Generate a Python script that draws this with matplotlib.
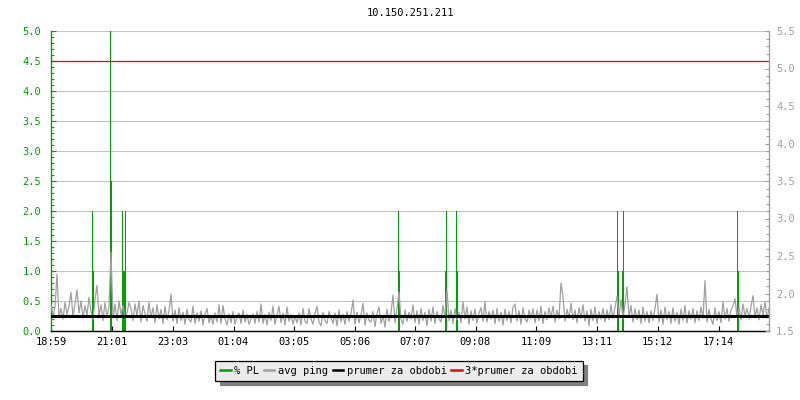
import matplotlib
matplotlib.use('Agg')
import matplotlib.pyplot as plt
from matplotlib.ticker import MultipleLocator, FormatStrFormatter
from matplotlib.lines import Line2D

plt.rcParams['font.family'] = ['DejaVu Sans Mono']

title = '10.150.251.211'

# x axis: minutes since 18:59, one ping sample every 4 minutes
tick_minutes = [0, 122, 244, 365, 486, 607, 728, 849, 970, 1092, 1213, 1335]
tick_labels = ['18:59', '21:01', '23:03', '01:04', '03:05', '05:06',
               '07:07', '09:08', '11:09', '13:11', '15:12', '17:14']
x_end = 1436
ping_step = 4

# avg ping [ms], right axis
avg_ping = [
    1.85, 1.70, 1.82, 2.26, 1.68, 1.80, 1.66, 1.88, 1.72, 1.83, 2.02, 1.69, 1.86, 2.05, 1.74, 1.90, 1.67, 1.84, 1.71, 1.95,
    1.76, 1.66, 1.92, 2.11, 1.70, 1.85, 1.64, 1.88, 1.69, 1.83, 2.55, 1.67, 1.86, 1.64, 1.90, 1.72, 1.84, 1.68, 1.74, 1.88,
    1.80, 1.64, 1.86, 1.70, 1.90, 1.62, 1.84, 1.73, 1.63, 1.88, 1.68, 1.81, 1.61, 1.85, 1.66, 1.79, 1.60, 1.83, 1.65, 1.77,
    1.99, 1.63, 1.78, 1.60, 1.81, 1.64, 1.75, 1.59, 1.79, 1.65, 1.62, 1.83, 1.60, 1.74, 1.63, 1.77, 1.58, 1.72, 1.80, 1.61,
    1.70, 1.59, 1.74, 1.62, 1.85, 1.60, 1.84, 1.66, 1.58, 1.73, 1.61, 1.76, 1.59, 1.70, 1.74, 1.60, 1.78, 1.62, 1.72, 1.59,
    1.66, 1.73, 1.60, 1.76, 1.62, 1.86, 1.60, 1.72, 1.58, 1.75, 1.64, 1.83, 1.59, 1.71, 1.83, 1.61, 1.74, 1.58, 1.82, 1.63,
    1.72, 1.59, 1.70, 1.61, 1.74, 1.58, 1.80, 1.63, 1.60, 1.80, 1.66, 1.59, 1.73, 1.83, 1.62, 1.57, 1.75, 1.64, 1.60, 1.76,
    1.68, 1.60, 1.74, 1.57, 1.78, 1.62, 1.72, 1.59, 1.76, 1.63, 1.73, 1.91, 1.59, 1.75, 1.61, 1.71, 1.87, 1.58, 1.74, 1.64,
    1.62, 1.76, 1.56, 1.73, 1.82, 1.60, 1.71, 1.55, 1.79, 1.63, 1.74, 1.98, 1.61, 1.80, 2.02, 1.66, 1.59, 1.78, 1.63, 1.75,
    1.66, 1.85, 1.61, 1.77, 1.59, 1.80, 1.64, 1.75, 1.57, 1.79, 1.63, 1.82, 1.60, 1.76, 1.66, 1.62, 1.84, 1.68, 2.05, 1.64,
    1.78, 1.60, 1.80, 1.65, 1.75, 1.61, 1.89, 1.66, 1.82, 1.59, 1.77, 1.64, 1.79, 1.61, 1.74, 1.81, 1.63, 1.89, 1.62, 1.76,
    1.66, 1.78, 1.60, 1.80, 1.63, 1.75, 1.58, 1.79, 1.64, 1.76, 1.61, 1.82, 1.86, 1.63, 1.77, 1.59, 1.81, 1.66, 1.62, 1.78,
    1.67, 1.80, 1.61, 1.78, 1.64, 1.83, 1.60, 1.76, 1.65, 1.81, 1.68, 1.83, 1.62, 1.78, 1.66, 2.14, 1.96, 1.63, 1.79, 1.67,
    1.87, 1.65, 1.78, 1.61, 1.81, 1.67, 1.85, 1.63, 1.77, 1.57, 1.79, 1.64, 1.82, 1.60, 1.76, 1.66, 1.80, 1.62, 1.78, 1.65,
    1.85, 1.67, 1.81, 1.96, 1.70, 1.92, 1.66, 1.86, 2.09, 1.68, 1.84, 1.62, 1.80, 1.65, 1.78, 1.60, 1.82, 1.63, 1.76, 1.61,
    1.77, 1.64, 1.80, 1.99, 1.62, 1.78, 1.59, 1.82, 1.65, 1.76, 1.60, 1.81, 1.63, 1.75, 1.59, 1.79, 1.64, 1.84, 1.61, 1.77,
    1.66, 1.80, 1.61, 1.77, 1.64, 1.82, 1.67, 2.17, 1.62, 1.79, 1.66, 1.59, 1.81, 1.64, 1.76, 1.61, 1.89, 1.66, 1.80, 1.63,
    1.78, 1.84, 1.93, 1.68, 1.82, 1.65, 1.86, 1.70, 1.80, 1.66, 1.83, 1.97, 1.69, 1.81, 1.65, 1.85, 1.71, 1.89, 1.67, 1.80,
]
ping_minutes = [i * ping_step for i in range(len(avg_ping))]

# packet loss [%], left axis (only non-zero samples, 2 min each)
pl_minutes = [82, 84, 118, 120, 142, 144, 146, 148, 694, 696,
              788, 790, 810, 812, 1132, 1134, 1142, 1144, 1372, 1374]
pl_values = [2.0, 1.0, 5.0, 2.5, 2.0, 1.0, 1.0, 2.0, 2.0, 1.0,
             1.0, 2.0, 2.0, 1.0, 2.0, 1.0, 1.0, 2.0, 2.0, 1.0]
pl_width = 2

prumer = 1.70
prumer3 = 5.10

legend_labels = ['% PL', 'avg ping', 'prumer za obdobi', '3*prumer za obdobi']

GREEN = '#00a000'
GRAY = '#a0a0a0'
GRID = '#c4c4c4'

fig = plt.figure(figsize=(8, 4), dpi=100)
ax = fig.add_axes([51 / 800, 69 / 400, 718 / 800, 300 / 400])
ax2 = ax.twinx()

# left axis: packet loss
ax.set_xlim(0, x_end)
ax.set_ylim(0, 5)
ax.yaxis.set_major_locator(MultipleLocator(0.5))
ax.yaxis.set_minor_locator(MultipleLocator(0.1))
ax.yaxis.set_major_formatter(FormatStrFormatter('%.1f'))
ax.grid(axis='y', color=GRID, linewidth=0.8)
ax.set_axisbelow(True)
ax.bar(pl_minutes, pl_values, width=pl_width, align='edge', color=GREEN, linewidth=0)

# right axis: ping
ax2.set_ylim(1.5, 5.5)
ax2.yaxis.set_major_locator(MultipleLocator(0.5))
ax2.yaxis.set_minor_locator(MultipleLocator(0.1))
ax2.yaxis.set_major_formatter(FormatStrFormatter('%.1f'))
ax2.plot(ping_minutes, avg_ping, color=GRAY, linewidth=0.9)
ax2.axhline(prumer, color='black', linewidth=2.2)
ax2.axhline(prumer3, color='red', linewidth=0.9)

ax.set_xticks(tick_minutes)
ax.set_xticklabels(tick_labels)

# spines and ticks
for s in ['top', 'right']:
    ax.spines[s].set_visible(False)
for s in ['top', 'left', 'bottom']:
    ax2.spines[s].set_visible(False)
ax.spines['left'].set_color(GREEN)
ax.spines['bottom'].set_color('black')
ax2.spines['right'].set_color(GRAY)
for sp in [ax.spines['left'], ax.spines['bottom'], ax2.spines['right']]:
    sp.set_linewidth(1.0)

ax.tick_params(axis='y', which='major', direction='in', length=3.4, width=0.8,
               color=GREEN, labelcolor=GREEN, labelsize=7.5, pad=7)
ax.tick_params(axis='y', which='minor', direction='in', length=2.4, width=0.8, color=GREEN)
ax.tick_params(axis='x', direction='in', length=3.6, width=0.8, color='black',
               labelsize=7.5, pad=4)
ax2.tick_params(axis='y', which='major', direction='in', length=3.0, width=0.8,
                color=GRAY, labelcolor=GRAY, labelsize=7.5, pad=5)
ax2.tick_params(axis='y', which='minor', direction='in', length=2.2, width=0.8, color=GRAY)

fig.text(410 / 800, 1 - 13 / 400, title, ha='center', va='center', fontsize=7.5)

handles = [Line2D([], [], color=c, linewidth=1.8)
           for c in [GREEN, GRAY, 'black', 'red']]
leg = fig.legend(handles, legend_labels, loc='center', ncol=4,
                 bbox_to_anchor=(399 / 800, 1 - 371 / 400), bbox_transform=fig.transFigure,
                 fontsize=7.5, handlelength=1.0, handletextpad=0.35, columnspacing=0.45,
                 borderpad=0.45, fancybox=False, framealpha=1,
                 edgecolor='black', facecolor='#ebebeb',
                 shadow={'color': '#808080', 'alpha': 1, 'ox': 3, 'oy': -3})
leg.get_frame().set_linewidth(0.9)

fig.savefig('out.png', dpi=100)
